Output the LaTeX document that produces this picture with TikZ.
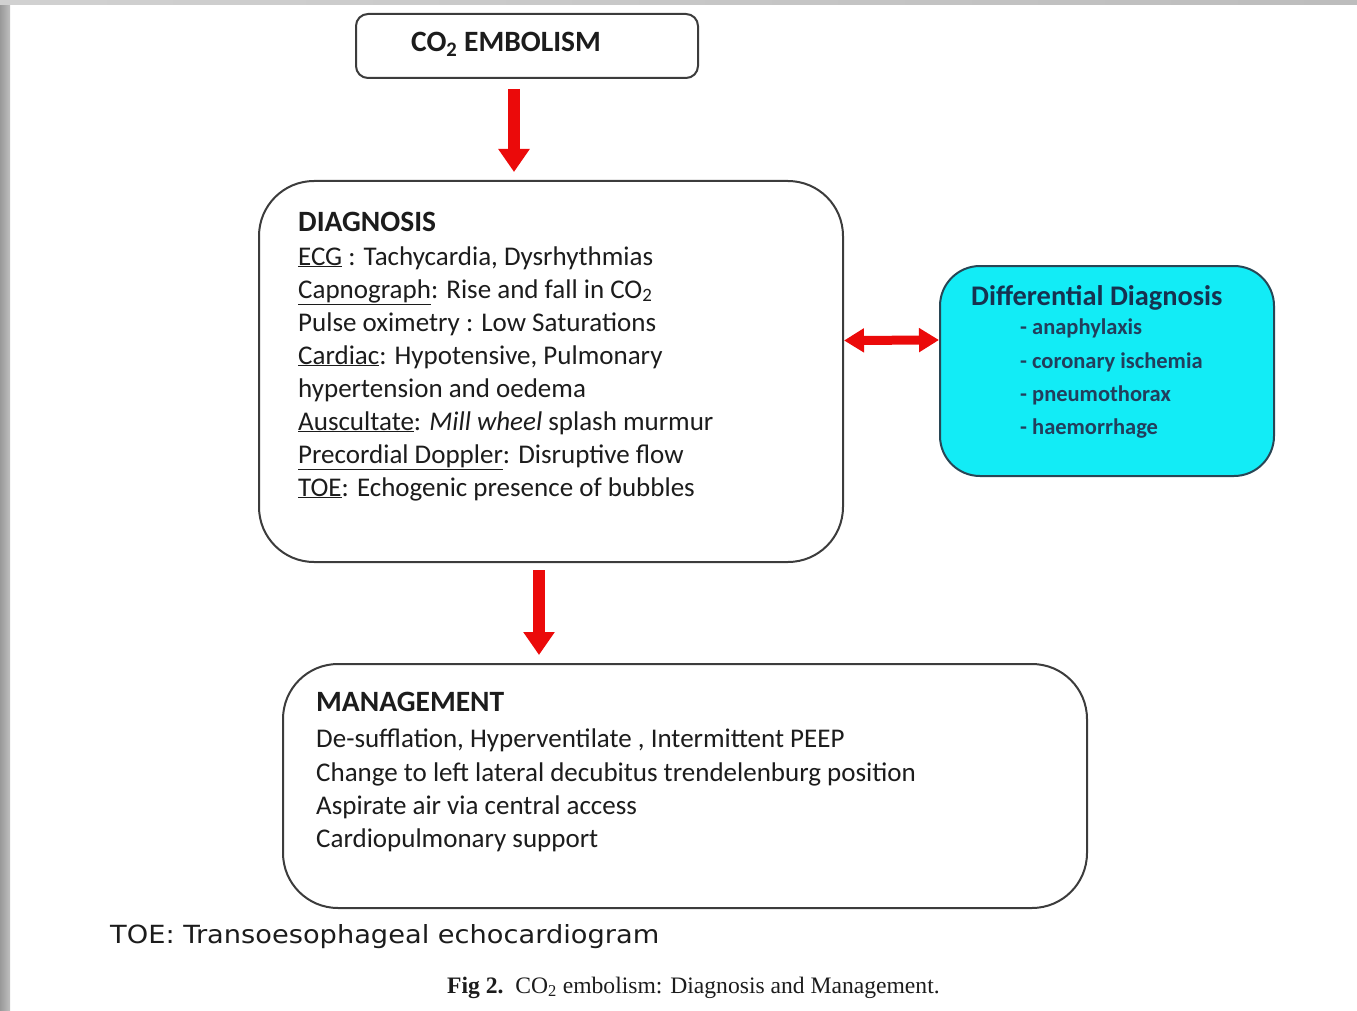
\documentclass[tikz,border=0pt]{standalone}
\usepackage{fontspec}
\setmainfont{Carlito}
\newfontfamily\footfont{DejaVu Sans}
\newfontfamily\capfont{Liberation Serif}
\usetikzlibrary{arrows.meta,calc}
\definecolor{boxline}{RGB}{60,60,60}
\definecolor{textc}{RGB}{28,28,28}
\definecolor{arrowred}{RGB}{235,10,10}
\definecolor{ddfill}{RGB}{18,236,246}
\definecolor{ddline}{RGB}{40,70,85}
\definecolor{ddtitle}{RGB}{22,50,80}
\definecolor{dditem}{RGB}{34,62,92}
\begin{document}
\begin{tikzpicture}[x=1pt,y=-1pt,
  box/.style={draw=boxline, line width=2pt, fill=white, anchor=north west, inner sep=0pt},
  txt/.style={anchor=base west, inner sep=0pt, text=textc, font=\fontsize{27}{32}\selectfont},
  hd/.style={txt, font=\bfseries\fontsize{29.5}{34}\selectfont},
  ddt/.style={anchor=base west, inner sep=0pt, text=ddtitle, font=\bfseries\fontsize{28.4}{32}\selectfont},
  ddi/.style={anchor=base west, inner sep=0pt, text=dditem, font=\bfseries\fontsize{22.5}{26}\selectfont},
  redarrow/.style={draw=arrowred, line width=12pt, -{Triangle[width=30pt,length=23pt]}},
  dblarrow/.style={draw=arrowred, line width=9pt, {Triangle[width=23pt,length=20pt]}-{Triangle[width=23pt,length=20pt]}}
]
\useasboundingbox (0,0) rectangle (1357,1011);
% grey page edges
\shade[left color=black!40, right color=black!25] (0,0) rectangle (10,1011);
\shade[left color=black!18, right color=black!26] (0,0) rectangle (1357,5);

% boxes
\node[box, rounded corners=12pt, minimum width=342pt, minimum height=64pt] (co2) at (355,13) {};
\node[box, rounded corners=55pt, minimum width=584pt, minimum height=381pt] (diag) at (258,180) {};
\node[box, rounded corners=40pt, minimum width=334pt, minimum height=210pt, fill=ddfill, draw=ddline] (dd) at (939,265) {};
\node[box, rounded corners=55pt, minimum width=804pt, minimum height=244pt] (mgmt) at (282,663) {};

% top box text
\node[hd, anchor=base] (co2t) at (506,52) {CO\textsubscript{2} EMBOLISM};

% diagnosis text
\node[hd] (d0) at (298,232) {DIAGNOSIS};
\node[txt] (d1) at (298,265) {\underline{ECG} : Tachycardia, Dysrhythmias};
\node[txt] (d2) at (298,298) {\underline{Capnograph}: Rise and fall in CO\textsubscript{2}};
\node[txt] (d3) at (298,331) {Pulse oximetry : Low Saturations};
\node[txt] (d4) at (298,364) {\underline{Cardiac}: Hypotensive, Pulmonary};
\node[txt] (d5) at (298,397) {hypertension and oedema};
\node[txt] (d6) at (298,430) {\underline{Auscultate}: \textit{Mill wheel} splash murmur};
\node[txt] (d7) at (298,463) {\underline{Precordial Doppler}: Disruptive flow};
\node[txt] (d8) at (298,496) {\underline{TOE}: Echogenic presence of bubbles};

% differential diagnosis text
\node[ddt] (dd0) at (971,305) {Differential Diagnosis};
\node[ddi] (dd1) at (1020,334) {- anaphylaxis};
\node[ddi] (dd2) at (1020,368) {- coronary ischemia};
\node[ddi] (dd3) at (1020,401) {- pneumothorax};
\node[ddi] (dd4) at (1020,434) {- haemorrhage};

% management text
\node[hd] (m0) at (316,711) {MANAGEMENT};
\node[txt] (m1) at (316,747) {De-sufflation, Hyperventilate , Intermittent PEEP};
\node[txt] (m2) at (316,781) {Change to left lateral decubitus trendelenburg position};
\node[txt] (m3) at (316,814) {Aspirate air via central access};
\node[txt] (m4) at (316,847) {Cardiopulmonary support};

% footnote and caption
\node[anchor=base west, inner sep=0pt, text=textc, font=\footfont\fontsize{25}{29}\selectfont] (foot) at (110,943) {\scalebox{1.09}[1]{TOE: Transoesophageal echocardiogram}};
\node[anchor=base west, inner sep=0pt, text=textc, font=\capfont\fontsize{23.6}{27}\selectfont] (cap) at (447,993) {\textbf{Fig 2.}\ \ CO\textsubscript{2} embolism: Diagnosis and Management.};

% arrows
\draw[redarrow] ($(co2.south)+(-13,10)$) -- ($(diag.north)+(-37,-8)$);
\draw[redarrow] ($(diag.south)+(-12,7)$) -- ($(mgmt.north)+(-146,-8)$);
\draw[dblarrow] ($(diag.east)+(0,-31)$) -- ($(dd.west)+(0,-31)$);
\end{tikzpicture}
\end{document}
